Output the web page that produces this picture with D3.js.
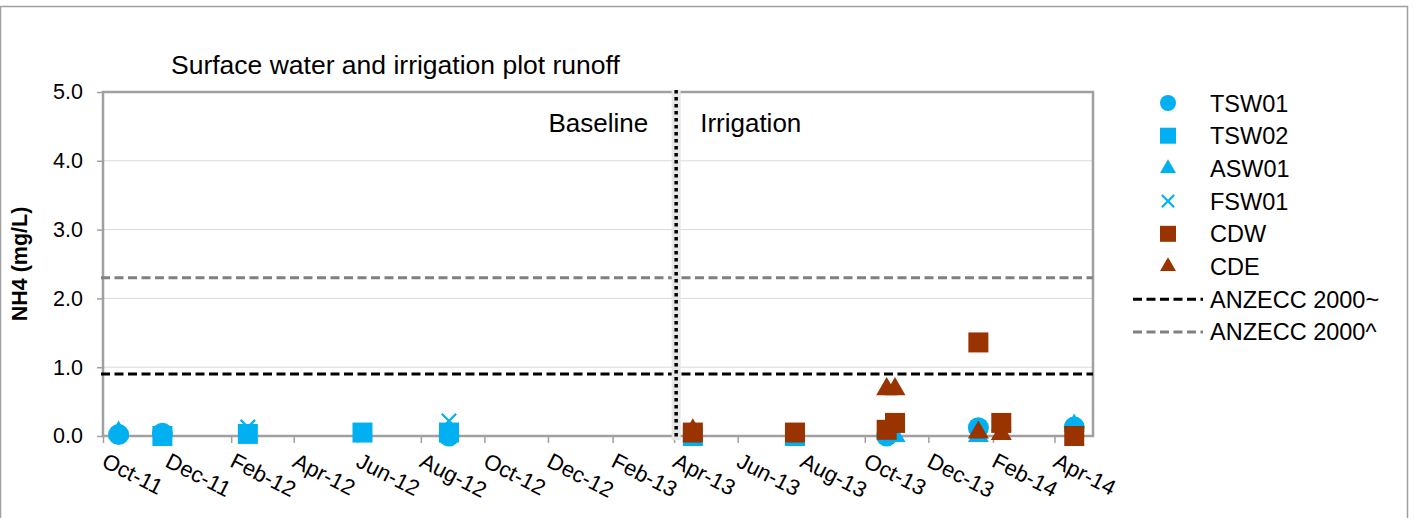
<!DOCTYPE html>
<html>
  <head>
    <meta charset="utf-8" />
    <style>
      body { margin: 0; background: #fff; }
      text { font-family: "Liberation Sans", Arial, sans-serif; fill: #000; }
    </style>
  </head>
  <body>
    <svg class="chart"></svg>

    <script src="https://d3js.org/d3.v7.min.js"></script>
    <script>
      // values (date, NH4 mg/L)
      var tsw01 = [["2011-10-16", 0.02], ["2011-11-27", 0.04], ["2012-08-28", 0.0],
        ["2013-10-22", 0.0], ["2014-01-18", 0.12], ["2014-04-20", 0.13]];
      var tsw02 = [["2011-11-27", 0.0], ["2012-02-17", 0.03], ["2012-06-06", 0.05],
        ["2012-08-28", 0.05], ["2013-04-19", 0.0], ["2013-07-26", 0.0]];
      var asw01 = [["2011-10-16", 0.05], ["2013-10-30", 0.0], ["2014-01-18", 0.0],
        ["2014-02-09", 0.16], ["2014-04-20", 0.15]];
      var fsw01 = [["2012-02-17", 0.13], ["2012-08-28", 0.22]];
      var cdw = [["2013-04-19", 0.05], ["2013-07-26", 0.05], ["2013-10-22", 0.09],
        ["2013-10-30", 0.19], ["2014-01-18", 1.36], ["2014-02-09", 0.19], ["2014-04-20", 0.0]];
      var cde = [["2013-04-19", 0.08], ["2013-10-22", 0.68], ["2013-10-30", 0.68],
        ["2014-01-18", 0.05], ["2014-02-09", 0.03]];

      var guidelines = [["ANZECC 2000~", 0.9], ["ANZECC 2000^", 2.3]];
      var irrigationStart = "2013-04-03";
      var xTickLabels = ["Oct-11", "Dec-11", "Feb-12", "Apr-12", "Jun-12", "Aug-12",
        "Oct-12", "Dec-12", "Feb-13", "Apr-13", "Jun-13", "Aug-13", "Oct-13",
        "Dec-13", "Feb-14", "Apr-14"];
      var yTicks = [0, 1, 2, 3, 4, 5];
      var xDomain = ["2011-10-01", "2014-05-08"];

      var blue = "#00b0f0", brown = "#993300";
      var series = [
        { name: "TSW01", data: tsw01, shape: "circle", color: blue },
        { name: "TSW02", data: tsw02, shape: "square", color: blue },
        { name: "ASW01", data: asw01, shape: "triangle", color: blue },
        { name: "FSW01", data: fsw01, shape: "x", color: blue },
        { name: "CDW", data: cdw, shape: "square", color: brown },
        { name: "CDE", data: cde, shape: "triangle", color: brown }
      ];
      // CDE sits behind CDW in the picture
      var drawOrder = [0, 1, 2, 3, 5, 4];

      var W = 1415, H = 518;
      var pL = 103, pR = 1093, pT = 92, pB = 436;
      var parseDay = d3.utcParse("%Y-%m-%d");
      var parseTick = d3.utcParse("%b-%y");

      var svg = d3.select(".chart").attr("width", W).attr("height", H);

      svg.append("rect")
        .attr("x", 0.5).attr("y", 6.5).attr("width", 1407).attr("height", 540)
        .attr("fill", "none").attr("stroke", "#a0a0a0").attr("stroke-width", 1.5);

      var x = d3.scaleUtc().domain(xDomain.map(parseDay)).range([pL, pR]);
      var y = d3.scaleLinear().domain([0, 5]).range([pB, pT]);

      // gridlines
      svg.append("g").selectAll("line").data(yTicks.slice(1, -1)).enter().append("line")
        .attr("x1", pL).attr("x2", pR)
        .attr("y1", function (d) { return y(d); }).attr("y2", function (d) { return y(d); })
        .attr("stroke", "#d9d9d9").attr("stroke-width", 1);

      // y axis
      var yAxis = svg.append("g").attr("transform", "translate(" + pL + ",0)")
        .call(d3.axisLeft(y).tickValues(yTicks).tickFormat(d3.format(".1f")).tickSize(6).tickPadding(14));
      yAxis.select(".domain").remove();
      yAxis.selectAll("line").attr("stroke", "#a0a0a0").attr("stroke-width", 1.5);
      yAxis.selectAll("text").style("font-size", "21.5px").attr("fill", "#000")
        .attr("font-family", "Liberation Sans, Arial, sans-serif");

      // x axis
      var tickDates = xTickLabels.map(parseTick);
      var xAxis = svg.append("g").attr("transform", "translate(0," + pB + ")")
        .call(d3.axisBottom(x).tickValues(tickDates).tickSize(7)
          .tickFormat(function (d, i) { return xTickLabels[i]; }));
      xAxis.select(".domain").remove();
      xAxis.selectAll("line").attr("stroke", "#a0a0a0").attr("stroke-width", 1.5);
      xAxis.selectAll("text")
        .style("font-size", "22px")
        .attr("font-family", "Liberation Sans, Arial, sans-serif")
        .attr("fill", "#000")
        .attr("text-anchor", "start")
        .attr("y", 0).attr("dy", 0)
        .attr("transform", "translate(-3,30) rotate(27)");

      // plot border
      svg.append("rect")
        .attr("x", pL).attr("y", pT).attr("width", pR - pL).attr("height", pB - pT)
        .attr("fill", "none").attr("stroke", "#a0a0a0").attr("stroke-width", 2.5);

      // guideline dashes
      svg.append("g").selectAll("line").data(guidelines).enter().append("line")
        .attr("x1", pL - 2).attr("x2", pR)
        .attr("y1", function (d) { return y(d[1]); }).attr("y2", function (d) { return y(d[1]); })
        .attr("stroke", function (d, i) { return i ? "#808080" : "#000"; })
        .attr("stroke-width", 3).attr("stroke-dasharray", "9,4.5");

      // baseline / irrigation divider
      var xi = x(parseDay(irrigationStart));
      svg.append("line")
        .attr("x1", xi).attr("x2", xi).attr("y1", pT - 2).attr("y2", pB + 4)
        .attr("stroke", "#e6e6e6").attr("stroke-width", 9);
      svg.append("line")
        .attr("x1", xi).attr("x2", xi).attr("y1", pT - 2).attr("y2", pB + 4)
        .attr("stroke", "#000").attr("stroke-width", 3.5).attr("stroke-dasharray", "3.5,3.5");

      svg.append("text").attr("x", xi - 28).attr("y", 132).attr("text-anchor", "end")
        .style("font-size", "26px").text("Baseline");
      svg.append("text").attr("x", xi + 24).attr("y", 132)
        .style("font-size", "26px").text("Irrigation");

      // titles
      svg.append("text").attr("x", 171).attr("y", 74).style("font-size", "26.5px")
        .text("Surface water and irrigation plot runoff");
      svg.append("text")
        .attr("transform", "translate(27," + (pT + pB) / 2 + ") rotate(-90)")
        .attr("text-anchor", "middle").style("font-size", "21.5px").style("font-weight", "bold")
        .text("NH4 (mg/L)");

      function markerPath(shape, s) {
        if (shape === "x") {
          var h = s * 0.36;
          return "M" + -h + "," + -h + "L" + h + "," + h + "M" + -h + "," + h + "L" + h + "," + -h;
        }
        var type = shape === "circle" ? d3.symbolCircle : shape === "square" ? d3.symbolSquare : d3.symbolTriangle;
        var area = shape === "circle" ? Math.PI * s * s / 4 : shape === "square" ? s * s : Math.sqrt(3) / 4 * s * s;
        return d3.symbol().type(type).size(area)();
      }

      function styleMarker(sel, d) {
        if (d.shape === "x") sel.attr("fill", "none").attr("stroke", d.color).attr("stroke-width", 2.2);
        else sel.attr("fill", d.color);
      }

      // points
      drawOrder.forEach(function (k) {
        var s = series[k];
        var sizes = { circle: 21, square: 20, triangle: 21, x: 20 };
        var g = svg.append("g");
        g.selectAll("path").data(s.data).enter().append("path")
          .attr("d", markerPath(s.shape, sizes[s.shape]))
          .attr("transform", function (d) {
            return "translate(" + x(parseDay(d[0])) + "," + y(d[1]) + ")";
          })
          .call(styleMarker, s);
      });

      // legend
      var lx = 1168, ly = 103, step = 32.7;
      var leg = svg.append("g");
      series.forEach(function (s, i) {
        leg.append("path")
          .attr("d", markerPath(s.shape, s.shape === "x" ? 17 : 16))
          .attr("transform", "translate(" + lx + "," + (ly + i * step) + ")")
          .call(styleMarker, s);
        leg.append("text").attr("x", 1210).attr("y", ly + i * step + 8.5)
          .style("font-size", "23.5px").text(s.name);
      });
      guidelines.forEach(function (gl, j) {
        var yy = ly + (series.length + j) * step;
        leg.append("line").attr("x1", 1133).attr("x2", 1203).attr("y1", yy).attr("y2", yy)
          .attr("stroke", j ? "#808080" : "#000").attr("stroke-width", 3)
          .attr("stroke-dasharray", "9,4.5");
        leg.append("text").attr("x", 1210).attr("y", yy + 8.5)
          .style("font-size", "23.5px").text(gl[0]);
      });
    </script>
  </body>
</html>
